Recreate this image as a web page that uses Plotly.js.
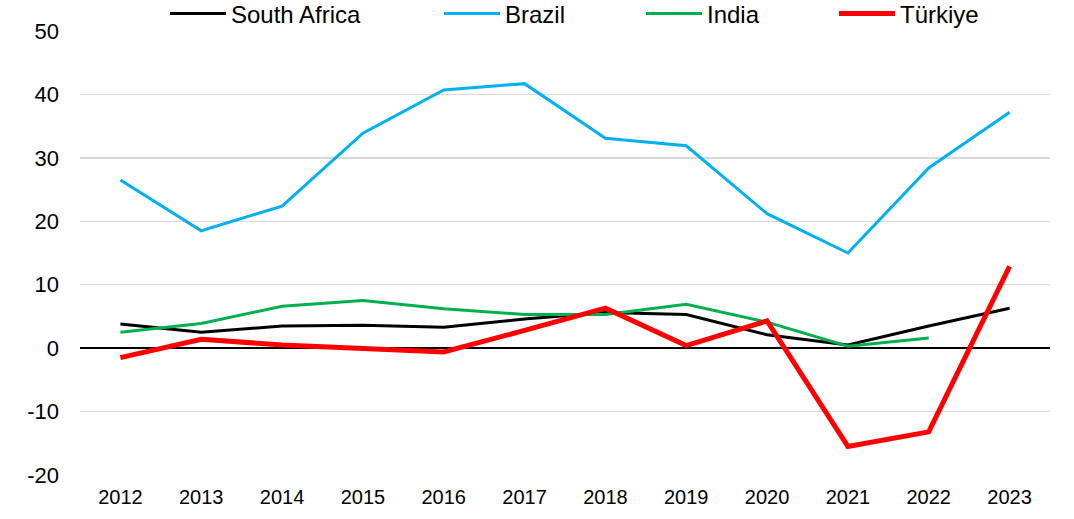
<!DOCTYPE html>
<html>
<head>
<meta charset="utf-8">
<script src="https://cdn.plot.ly/plotly-3.0.1.min.js"></script>
<style>html,body{margin:0;padding:0;background:#fff;}#chart{width:1074px;height:519px;}</style>
</head>
<body>
<div id="chart"></div>
<script>
const years = ['2012','2013','2014','2015','2016','2017','2018','2019','2020','2021','2022','2023'];
const southAfrica = [3.8, 2.5, 3.5, 3.6, 3.3, 4.6, 5.6, 5.3, 2.1, 0.5, 3.5, 6.3];
const brazil = [26.5, 18.5, 22.4, 33.9, 40.7, 41.7, 33.1, 31.9, 21.2, 15.0, 28.4, 37.2];
const india = [2.5, 3.9, 6.6, 7.5, 6.2, 5.3, 5.3, 6.9, 4.1, 0.3, 1.6, null];
const turkiye = [-1.5, 1.4, 0.5, -0.1, -0.6, 2.8, 6.3, 0.4, 4.3, -15.5, -13.2, 12.9];
const yTickVals = [-20, -10, 0, 10, 20, 30, 40, 50];
const yTickLabels = ['-20', '-10', '0', '10', '20', '30', '40', '50'];

const names = ['South Africa', 'Brazil', 'India', 'Türkiye'];
const series = [southAfrica, brazil, india, turkiye];
const colors = ['#000000', '#00b0f0', '#00b050', '#ff0000'];
const widths = [3, 3, 3, 5];
const legendIds = ['legend', 'legend2', 'legend3', 'legend4'];
const legendX = [170, 444, 646, 839];

const traces = series.map((s, i) => ({
  x: years, y: s, name: names[i], type: 'scatter', mode: 'lines',
  line: {color: colors[i], width: widths[i]},
  legend: legendIds[i], connectgaps: false
}));

const L = 80, R = 24, T = 31, B = 44, W = 1074, H = 519;
const pw = W - L - R;
const layout = {
  width: W, height: H,
  margin: {l: L, r: R, t: T, b: B, autoexpand: false},
  paper_bgcolor: '#fff', plot_bgcolor: '#fff',
  font: {family: 'Liberation Sans, Arial, sans-serif', color: '#000'},
  showlegend: true,
  xaxis: {
    type: 'category', range: [-0.5, 11.5], showgrid: false, showline: false, ticks: '',
    tickfont: {size: 20}, zeroline: false, ticklabelstandoff: 8
  },
  yaxis: {
    range: [-20, 50], tickmode: 'array', tickvals: yTickVals, ticktext: yTickLabels,
    showgrid: true, gridcolor: '#d9d9d9', gridwidth: 1.5,
    zeroline: true, zerolinecolor: '#000', zerolinewidth: 1.5,
    showline: false, ticks: '', tickfont: {size: 22}, ticklabelstandoff: 20
  }
};
legendIds.forEach((id, i) => {
  layout[id] = {
    orientation: 'h', x: (legendX[i] - L - 5) / pw, xanchor: 'left',
    y: 1 + (T - 14) / (H - T - B), yanchor: 'middle',
    font: {size: 24}, itemwidth: 56, bgcolor: 'rgba(0,0,0,0)', borderwidth: 0
  };
});

Plotly.newPlot('chart', traces, layout, {displayModeBar: false, staticPlot: true});
</script>
</body>
</html>
